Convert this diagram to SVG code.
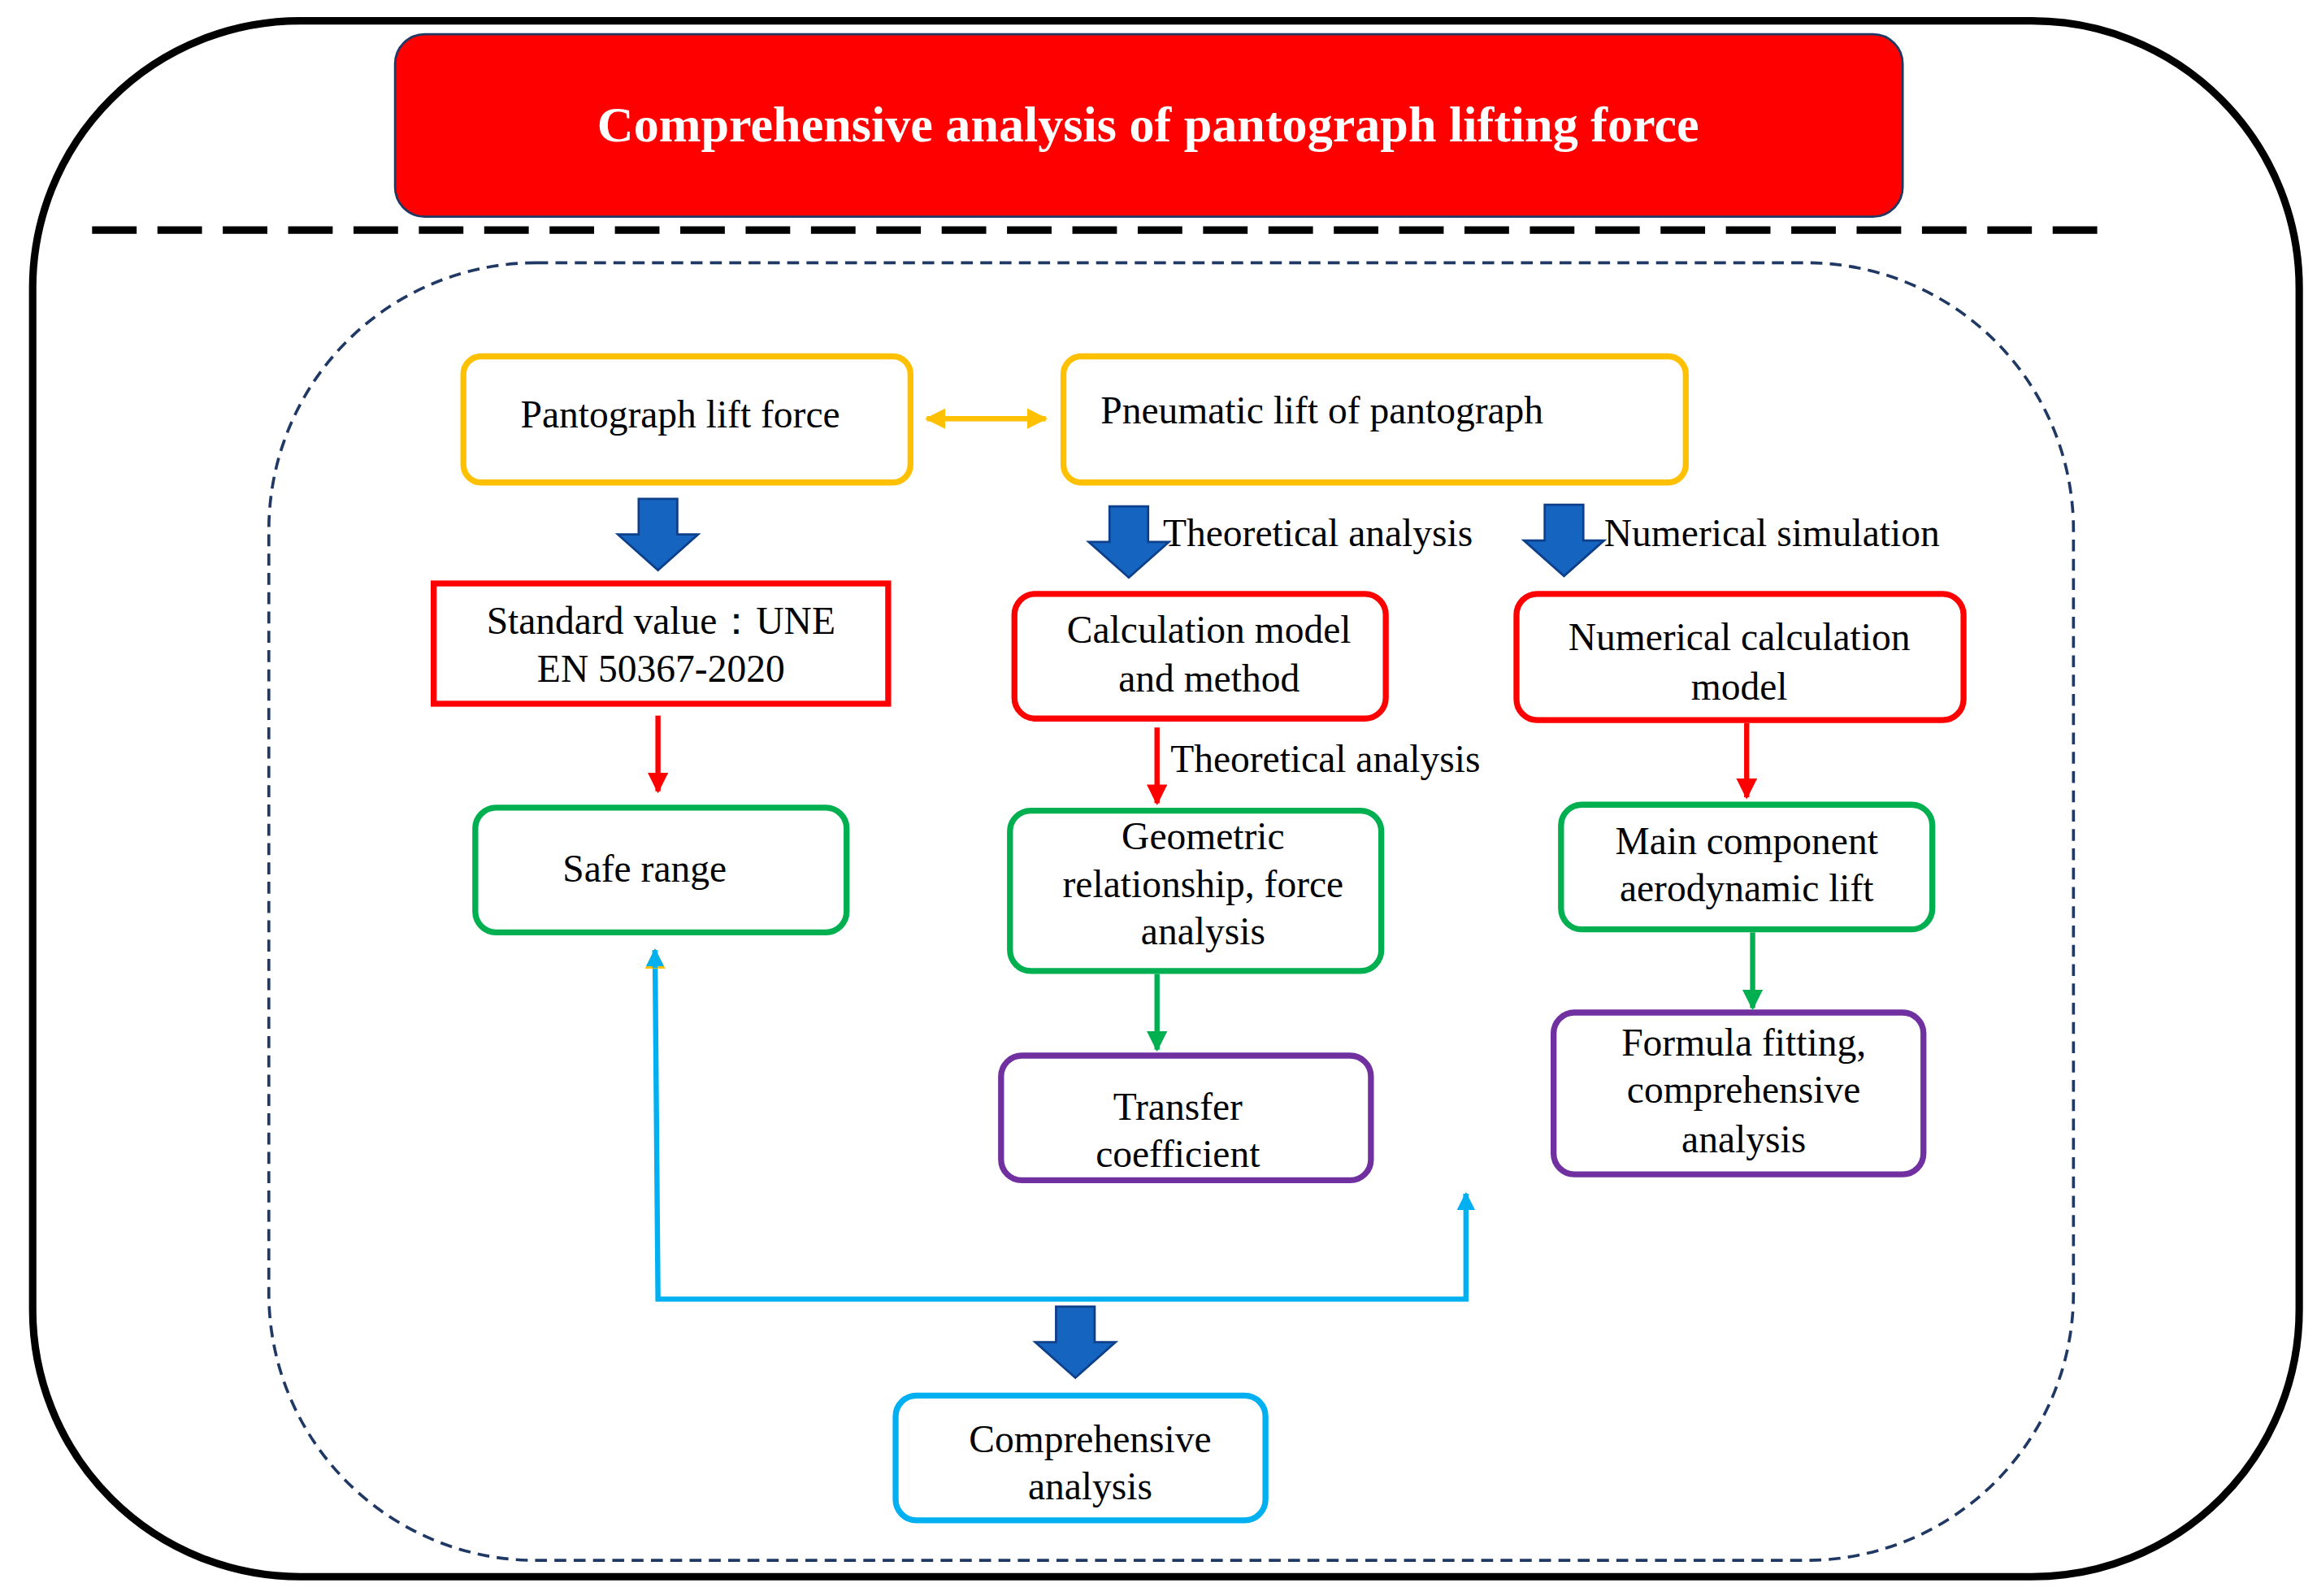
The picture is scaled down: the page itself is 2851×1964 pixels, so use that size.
<svg xmlns="http://www.w3.org/2000/svg" width="2851" height="1964" viewBox="0 0 2851 1964">
<defs>
<style>
.t{font-family:"Liberation Serif","DejaVu Serif",serif;font-size:26px;fill:#000;text-anchor:middle}
.b{fill:#fff;stroke-width:4}
.ba{fill:#1565C0;stroke:#0D3F8A;stroke-width:1.5}
</style>
<marker id="mr" viewBox="0 0 10 10" refX="9" refY="5" markerWidth="4" markerHeight="4" orient="auto"><path d="M0,0L10,5L0,10z" fill="#FF0000"/></marker>
<marker id="mg" viewBox="0 0 10 10" refX="9" refY="5" markerWidth="4" markerHeight="4" orient="auto"><path d="M0,0L10,5L0,10z" fill="#00B050"/></marker>
<marker id="mc" viewBox="0 0 10 10" refX="9" refY="5" markerWidth="3.5" markerHeight="3.5" orient="auto"><path d="M0,0L10,5L0,10z" fill="#00B0F0"/></marker>
<marker id="my" viewBox="0 0 10 10" refX="9" refY="5" markerWidth="4" markerHeight="4" orient="auto-start-reverse"><path d="M0,0L10,5L0,10z" fill="#FFC000"/></marker>
<path id="blk" d="M-13,0H13V24H27L0,48L-27,24H-13Z"/>
</defs>
<rect width="2851" height="1964" fill="#fff"/>
<g transform="scale(1.8276 1.827)">
<g id="frame">
<rect x="22" y="14" width="1526" height="1048" rx="180" fill="none" stroke="#000" stroke-width="5"/>
<line x1="62" y1="155" x2="1425" y2="155" stroke="#000" stroke-width="5" stroke-dasharray="30 14"/>
<rect x="181" y="177" width="1215" height="874" rx="180" fill="none" stroke="#1F3864" stroke-width="2" stroke-dasharray="8 5"/>
</g>
<g id="title">
<rect x="266" y="23" width="1015" height="123" rx="20" fill="#FF0000" stroke="#1F3864" stroke-width="1.5"/>
<text x="773" y="95" class="t" style="fill:#fff;font-weight:bold;font-size:34px">Comprehensive analysis of pantograph lifting force</text>
</g>
<g id="n1"><rect x="312" y="240" width="301" height="85" rx="12" class="b" stroke="#FFC000"/><text x="458" y="288" class="t">Pantograph lift force</text></g>
<g id="n2"><rect x="716" y="240" width="419" height="85" rx="12" class="b" stroke="#FFC000"/><text x="741" y="285" class="t" style="text-anchor:start">Pneumatic lift of pantograph</text></g>
<g id="n3"><rect x="292" y="393" width="306" height="81" class="b" stroke="#FF0000"/><text x="445" y="427" class="t">Standard value：UNE</text><text x="445" y="459" class="t">EN 50367-2020</text></g>
<g id="n4"><rect x="683" y="400" width="250" height="84" rx="14" class="b" stroke="#FF0000"/><text x="814" y="433" class="t">Calculation model</text><text x="814" y="466" class="t">and method</text></g>
<g id="n5"><rect x="1021" y="400" width="301" height="85" rx="14" class="b" stroke="#FF0000"/><text x="1171" y="438" class="t">Numerical calculation</text><text x="1171" y="471" class="t">model</text></g>
<g id="n6"><rect x="320" y="544" width="250" height="84" rx="14" class="b" stroke="#00B050"/><text x="434" y="594" class="t">Safe range</text></g>
<g id="n7"><rect x="680" y="546" width="250" height="108" rx="14" class="b" stroke="#00B050"/><text x="810" y="572" class="t">Geometric</text><text x="810" y="604" class="t">relationship, force</text><text x="810" y="636" class="t">analysis</text></g>
<g id="n8"><rect x="1051" y="542" width="250" height="84" rx="14" class="b" stroke="#00B050"/><text x="1176" y="575" class="t">Main component</text><text x="1176" y="607" class="t">aerodynamic lift</text></g>
<g id="n9"><rect x="674" y="711" width="249" height="84" rx="14" class="b" stroke="#7030A0"/><text x="793" y="754" class="t">Transfer</text><text x="793" y="786" class="t">coefficient</text></g>
<g id="n10"><rect x="1046" y="682" width="249" height="109" rx="14" class="b" stroke="#7030A0"/><text x="1174" y="711" class="t">Formula fitting,</text><text x="1174" y="743" class="t">comprehensive</text><text x="1174" y="776" class="t">analysis</text></g>
<g id="n11"><rect x="603" y="940" width="249" height="84" rx="14" class="b" stroke="#00B0F0"/><text x="734" y="978" class="t">Comprehensive</text><text x="734" y="1010" class="t">analysis</text></g>
<g id="connectors">
<line x1="624" y1="282" x2="704" y2="282" stroke="#FFC000" stroke-width="3.5" marker-start="url(#my)" marker-end="url(#my)"/>
<use href="#blk" x="443" y="336" class="ba"/>
<use href="#blk" x="760" y="341" class="ba"/>
<use href="#blk" x="1053" y="340" class="ba"/>
<use href="#blk" x="724" y="880" class="ba"/>
<text x="783" y="368" class="t" style="text-anchor:start">Theoretical analysis</text>
<text x="1080" y="368" class="t" style="text-anchor:start">Numerical simulation</text>
<line x1="443" y1="482" x2="443" y2="533" stroke="#FF0000" stroke-width="3.5" marker-end="url(#mr)"/>
<line x1="779" y1="490" x2="779" y2="541" stroke="#FF0000" stroke-width="3.5" marker-end="url(#mr)"/>
<text x="788" y="520" class="t" style="text-anchor:start">Theoretical analysis</text>
<line x1="1176" y1="487" x2="1176" y2="537" stroke="#FF0000" stroke-width="3.5" marker-end="url(#mr)"/>
<line x1="779" y1="656" x2="779" y2="707" stroke="#00B050" stroke-width="3.5" marker-end="url(#mg)"/>
<line x1="1180" y1="628" x2="1180" y2="679" stroke="#00B050" stroke-width="3.5" marker-end="url(#mg)"/>
<path d="M441,640L443,875H987V804" fill="none" stroke="#00B0F0" stroke-width="3.5" marker-start="url(#my)"/>
<path d="M441,652L441,640" fill="none" stroke="#00B0F0" stroke-width="3.5" marker-end="url(#mc)"/>
<path d="M987,815V804" fill="none" stroke="#00B0F0" stroke-width="3.5" marker-end="url(#mc)"/>
</g>
</g>
</svg>
